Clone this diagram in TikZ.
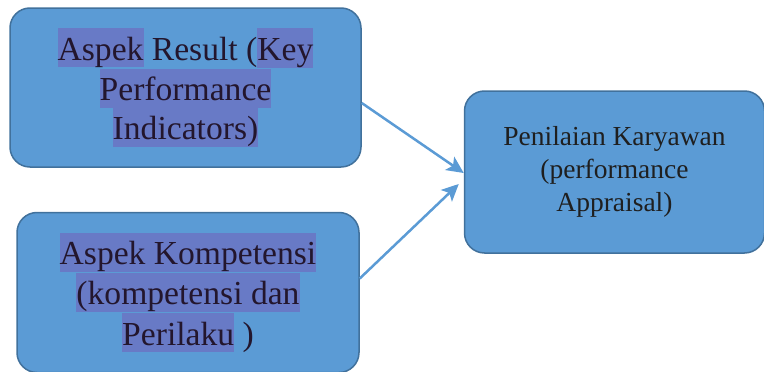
\documentclass[tikz,border=0pt]{standalone}
\usepackage{fontspec}
\setmainfont{Liberation Serif}
\usetikzlibrary{arrows.meta, positioning}
\definecolor{boxblue}{RGB}{91,155,213}
\definecolor{boxline}{RGB}{65,113,156}
\definecolor{hlblue}{RGB}{104,122,198}
\definecolor{txtdark}{RGB}{35,22,45}
\newcommand{\hlword}[1]{{\setlength{\fboxsep}{0pt}\colorbox{hlblue}{\rule[-7pt]{0pt}{39pt}#1}}}
\tikzstyle{aspect} = [rectangle, rounded corners=20pt, minimum width=351pt, minimum height=159pt, align=center, draw=boxline, line width=1.5pt, fill=boxblue, text=txtdark, font=\fontsize{33.6}{39}\selectfont]
\tikzstyle{appraisal} = [rectangle, rounded corners=20pt, minimum width=300pt, minimum height=162pt, align=center, draw=boxline, line width=1.5pt, fill=boxblue, text=black!88, font=\fontsize{27.5}{33}\selectfont]
\tikzstyle{arrow} = [line width=2.5pt, draw=boxblue, -{Stealth[length=17pt,width=16pt,inset=4pt]}]
\begin{document}
\begin{tikzpicture}
\useasboundingbox (0,0) rectangle (764pt,-372pt);
% Left column
\node (result) [aspect] at (185.5pt,-87.5pt) {\hlword{Aspek} Result (\hlword{Key}\\\hlword{Performance}\\\hlword{Indicators)}};
\node (kompetensi) [aspect, minimum width=342pt, minimum height=160pt, below=44pt of result, xshift=2.5pt] {\hlword{Aspek Kompetensi}\\\hlword{(kompetensi dan}\\\hlword{Perilaku} )};

% Right
\node (penilaian) [appraisal, right=102pt of result, yshift=-84.5pt] {Penilaian Karyawan\\(performance\\Appraisal)};

% Draw Arrows
\draw [arrow] ([yshift=-15.5pt]result.east) -- ([yshift=-1pt]penilaian.west);
\draw [arrow] ([yshift=14pt]kompetensi.east) -- ([xshift=-5pt,yshift=-12pt]penilaian.west);

\end{tikzpicture}
\end{document}
